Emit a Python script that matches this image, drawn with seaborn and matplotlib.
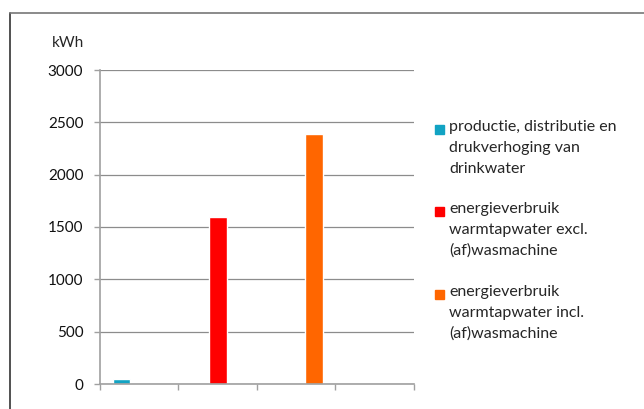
import pandas as pd
import matplotlib.pyplot as plt
import seaborn as sns
from matplotlib.lines import Line2D
from matplotlib.patches import Rectangle

# data
categories = ["1", "2", "3", "4"]
series_names = [
    "productie, distributie en\ndrukverhoging van\ndrinkwater",
    "energieverbruik\nwarmtapwater excl.\n(af)wasmachine",
    "energieverbruik\nwarmtapwater incl.\n(af)wasmachine",
]
drinkwater = [45, 0, 0, 0]
excl_wasmachine = [0, 1600, 0, 0]
incl_wasmachine = [0, 0, 2390, 0]
colors = ["#12A3C3", "#FF0000", "#FF6600"]
yticks = [0, 500, 1000, 1500, 2000, 2500, 3000]

rows = []
for name, vals in zip(series_names, [drinkwater, excl_wasmachine, incl_wasmachine]):
    for cat, v in zip(categories, vals):
        rows.append({"cat": cat, "serie": name, "kwh": v})
df = pd.DataFrame(rows)

sns.set_style("white")
plt.rcParams["font.family"] = ["Lato", "DejaVu Sans"]

fig = plt.figure(figsize=(6.44, 4.09), dpi=100)
ax = fig.add_axes([100 / 644, 1 - 384 / 409, 314 / 644, 314 / 409])

sns.barplot(
    data=df, x="cat", y="kwh", hue="serie",
    palette=colors, width=0.67, gap=0,
    legend=False, ax=ax, saturation=1
)

ax.set_xlim(-0.5, 3.5)
ax.set_ylim(0, 3000)
ax.set_yticks(yticks)
ax.set_yticklabels([str(t) for t in yticks], fontsize=11)
ax.set_xticks([-0.5, 0.5, 1.5, 2.5, 3.5])
ax.set_xticklabels([])
ax.set_xlabel("")
ax.set_ylabel("")
ax.yaxis.grid(True, color="#8c8c8c", linewidth=0.9)
ax.set_axisbelow(True)
for s in ["top", "right"]:
    ax.spines[s].set_visible(False)
for s in ["left", "bottom"]:
    ax.spines[s].set_color("#a0a0a0")
    ax.spines[s].set_linewidth(1.2)
ax.tick_params(axis="both", direction="out", length=4, color="#a0a0a0",
               width=1, left=True, bottom=True)
ax.tick_params(axis="y", pad=8, labelcolor="#111111")

fig.text(52 / 644, 1 - 43 / 409, "kWh", fontsize=11, va="center", ha="left")

# legend drawn by hand so the marker sits on the first line
marker_tops = [125, 207, 290]
for name, col, top in zip(series_names, colors, marker_tops):
    fig.text(449 / 644, 1 - (top - 5) / 409, name, fontsize=11.5, va="top",
             ha="left", linespacing=1.62)
    fig.patches.append(Rectangle((435 / 644, 1 - (top + 9) / 409), 9 / 644, 9 / 409,
                                 transform=fig.transFigure, color=col))

# outer chart border (cut off at the right and bottom)
fig.lines.append(Line2D([10 / 644, 10 / 644], [0, 1 - 13 / 409],
                        transform=fig.transFigure, color="#333333", linewidth=1.2))
fig.lines.append(Line2D([10 / 644, 1], [1 - 13 / 409, 1 - 13 / 409],
                        transform=fig.transFigure, color="#777777", linewidth=1.2))

plt.savefig("out.png", dpi=100)
